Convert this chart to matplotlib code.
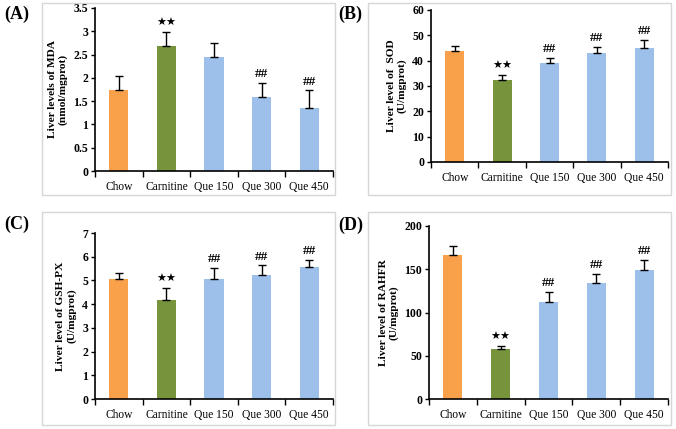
import matplotlib
matplotlib.use("Agg")
import matplotlib.pyplot as plt
import matplotlib.patches as patches

plt.rcParams["font.family"] = ["Liberation Serif", "DejaVu Serif"]

groups = ["Chow", "Carnitine", "Que 150", "Que 300", "Que 450"]

# values (mean, upper error)
mda = [1.73, 2.68, 2.44, 1.58, 1.35]
mda_err = [0.32, 0.30, 0.30, 0.32, 0.38]
sod = [43.8, 32.4, 39.2, 43.1, 45.0]
sod_err = [2.0, 1.9, 2.0, 2.3, 3.2]
gsh = [5.06, 4.18, 5.07, 5.25, 5.55]
gsh_err = [0.25, 0.50, 0.45, 0.38, 0.33]
rahfr = [166, 58, 112, 134, 149]
rahfr_err = [11, 3, 12, 11, 12]

# significance marks per bar
mda_sig = ["", "**", "", "##", "##"]
sod_sig = ["", "**", "##", "##", "##"]
gsh_sig = ["", "**", "##", "##", "##"]
rahfr_sig = ["", "**", "##", "##", "##"]

colors = ["#F9A04B", "#77933C", "#9CC0EA", "#9CC0EA", "#9CC0EA"]

W, H = 676, 429
fig = plt.figure(figsize=(W / 100, H / 100), dpi=100)


def px_axes(left, top, right, bottom):
    return fig.add_axes([left / W, 1 - bottom / H, (right - left) / W, (bottom - top) / H])


def box(left, top, right, bottom):
    rect = patches.Rectangle((left / W, 1 - bottom / H), (right - left) / W, (bottom - top) / H,
                             transform=fig.transFigure, facecolor="none",
                             edgecolor="#D6D6D6", linewidth=1.0)
    fig.patches.append(rect)


def panel(ax, vals, errs, sig, ymax, ystep, ylabel, fmt):
    x = range(len(groups))
    ax.bar(x, vals, width=0.4, color=colors, zorder=2)
    ax.errorbar(x, vals, yerr=[[0] * len(errs), errs], fmt="none", ecolor="black",
                elinewidth=1.0, capsize=3, capthick=1.0, zorder=3)
    for i, s in enumerate(sig):
        if not s:
            continue
        top = vals[i] + errs[i]
        if s == "**":
            ax.annotate("★★", (i, top), xytext=(0, 3), textcoords="offset points",
                        ha="center", va="bottom", fontsize=8, family="DejaVu Sans")
        else:
            ax.annotate(s, (i, top), xytext=(0, 2), textcoords="offset points",
                        ha="center", va="bottom", fontsize=9.5, fontweight="bold")
    ax.set_xlim(-0.5, len(groups) - 0.5)
    ax.set_ylim(0, ymax)
    ticks = [ystep * k for k in range(int(round(ymax / ystep)) + 1)]
    ax.set_yticks(ticks)
    ax.set_yticklabels([fmt(t) for t in ticks], fontweight="bold", fontsize=8.5)
    ax.set_xticks(list(x))
    ax.set_xticklabels(groups, fontsize=8.3)
    ax.set_xticks([i - 0.5 for i in range(len(groups) + 1)], minor=True)
    ax.tick_params(axis="x", which="major", length=0, pad=7)
    ax.tick_params(axis="x", which="minor", length=4, width=1.0, direction="out")
    ax.tick_params(axis="y", length=3, width=1.0, direction="out", pad=2)
    for side in ["top", "right"]:
        ax.spines[side].set_visible(False)
    for side in ["left", "bottom"]:
        ax.spines[side].set_linewidth(1.2)
    ax.set_ylabel(ylabel, fontsize=8.2, fontweight="bold", labelpad=4)


box(42, 3, 335, 195)
box(368, 3, 671, 195)
box(42, 212, 335, 425)
box(368, 212, 671, 425)

axA = px_axes(95, 8, 333, 171)
panel(axA, mda, mda_err, mda_sig, 3.5, 0.5, "Liver levels of MDA\n(nmol/mgprot)",
      lambda t: "0" if t == 0 else ("%g" % t))
axB = px_axes(431, 10, 668, 162)
panel(axB, sod, sod_err, sod_sig, 60, 10, "Liver level of  SOD\n(U/mgprot)", lambda t: "%d" % t)
axC = px_axes(95, 233, 333, 399)
panel(axC, gsh, gsh_err, gsh_sig, 7, 1, "Liver level of GSH-PX\n(U/mgprot)", lambda t: "%d" % t)
axD = px_axes(429, 226, 668, 399)
panel(axD, rahfr, rahfr_err, rahfr_sig, 200, 50, "Liver level of RAHFR\n(U/mgprot)",
      lambda t: "%d" % t)

for lab, (px, py) in zip(["(A)", "(B)", "(C)", "(D)"],
                         [(4, 14), (338, 14), (4, 224), (338, 225)]):
    fig.text(px / W, 1 - py / H, lab, fontsize=13, fontweight="bold", va="center", ha="left")

fig.savefig("out.png", dpi=100)
